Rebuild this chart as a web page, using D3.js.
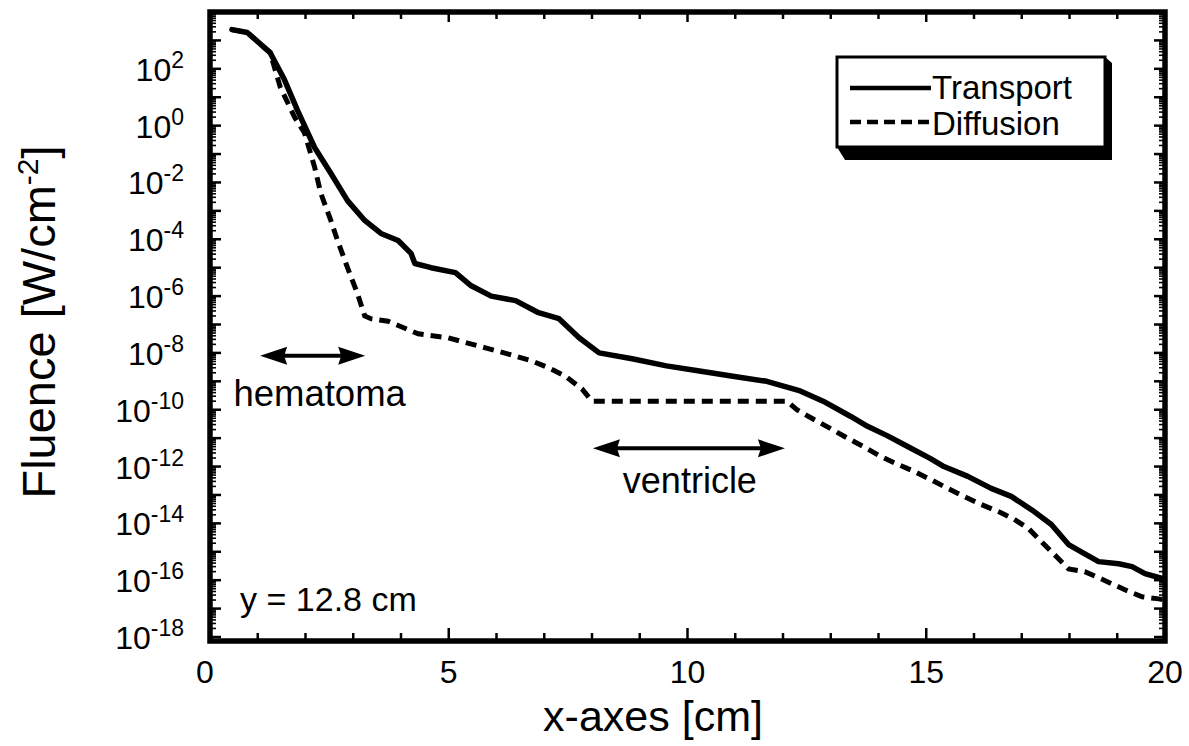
<!DOCTYPE html>
<html>
<head>
<meta charset="utf-8">
<script src="https://cdn.jsdelivr.net/npm/d3@7"></script>
<style>
  html, body { margin: 0; padding: 0; background: #fff; }
  svg { display: block; }
  text { font-family: "Liberation Sans", Arial, Helvetica, sans-serif; fill: #000; }
</style>
</head>
<body>
<svg id="chart" width="1189" height="746"></svg>
<script>
// ---- data ----
const transportX = [0.46,0.78,1.26,1.56,1.83,2.19,2.53,2.88,3.24,3.58,3.94,4.21,4.29,4.63,5.14,5.47,5.89,6.40,6.88,7.31,7.73,8.15,8.84,9.56,10.25,10.95,11.66,12.36,12.84,13.41,13.77,14.19,14.61,15.09,15.37,15.87,16.36,16.78,17.26,17.62,17.98,18.32,18.61,19.03,19.31,19.58,19.98];
const transportF = [2.4e3,1.9e3,3.7e2,41,3.5,0.17,0.021,2.3e-3,4.6e-4,1.6e-4,9e-5,3.2e-5,1.4e-5,1e-5,6.7e-6,2.3e-6,1e-6,6.9e-7,2.6e-7,1.6e-7,3.4e-8,1e-8,6.2e-9,3.5e-9,2.3e-9,1.5e-9,1e-9,4.6e-10,2e-10,5.9e-11,2.6e-11,1.2e-11,5.1e-12,1.9e-12,1e-12,4.5e-13,1.7e-13,8.9e-14,2.6e-14,9.1e-15,1.8e-15,8.5e-16,4.5e-16,3.8e-16,3e-16,1.7e-16,1.1e-16];

const diffusionX = [0.46,0.78,1.26,1.47,1.77,1.98,2.19,2.32,2.53,2.67,2.88,3.09,3.24,3.37,3.73,4.36,4.99,5.77,6.25,6.74,7.09,7.45,7.79,8.00,12.08,12.29,12.63,12.99,13.35,13.68,14.04,14.40,14.74,15.09,15.45,15.79,16.15,16.51,16.84,17.14,17.41,17.77,17.98,18.32,18.67,19.16,19.52,19.87,20.0];
const diffusionF = [2.4e3,1.9e3,3.7e2,23,2.0,0.55,0.035,4.2e-3,4.6e-4,9.1e-5,1e-5,1.2e-6,2e-7,1.6e-7,1.3e-7,4.7e-8,3.4e-8,1.5e-8,9.1e-9,5.2e-9,3e-9,1.5e-9,5.4e-10,2e-10,2e-10,1e-10,4.7e-11,2.2e-11,1e-11,5.1e-12,2.3e-12,1.2e-12,6.8e-13,3.5e-13,1.7e-13,8.9e-14,4.6e-14,2.6e-14,1.4e-14,6.6e-15,2.3e-15,5.7e-16,2.5e-16,2e-16,1.1e-16,4.6e-17,2.6e-17,2.2e-17,2e-17];

const xTickValues = [0, 5, 10, 15, 20];
const yLabelExponents = [2, 0, -2, -4, -6, -8, -10, -12, -14, -16, -18];
const seriesNames = ["Transport", "Diffusion"];

// annotations (data coordinates)
const hematomaArrow = { x0: 1.05, x1: 3.25, f: 8e-9 };
const ventricleArrow = { x0: 8.02, x1: 12.04, f: 4.4e-12 };

// ---- layout ----
const svg = d3.select("#chart");
const L = 210, R = 1165, T = 12, B = 641;
const x = d3.scaleLinear().domain([0, 20]).range([L, R]);
const y = d3.scaleLog().domain([1e-18, 1e4]).range([637, T]);

// frame
svg.append("rect").attr("x", L).attr("y", T).attr("width", R - L).attr("height", B - T)
  .attr("fill", "none").attr("stroke", "#000").attr("stroke-width", 5.5);

// x ticks (bottom + top)
const xMinor = d3.range(0, 21, 1);
svg.append("g").selectAll("line").data(xMinor).join("line")
  .attr("x1", d => x(d)).attr("x2", d => x(d))
  .attr("y1", B).attr("y2", d => B - (d % 5 === 0 ? 13 : 8))
  .attr("stroke", "#000").attr("stroke-width", 2.5);
svg.append("g").selectAll("line").data(xMinor).join("line")
  .attr("x1", d => x(d)).attr("x2", d => x(d))
  .attr("y1", T).attr("y2", d => T + (d % 5 === 0 ? 10 : 7))
  .attr("stroke", "#000").attr("stroke-width", 2.5);

// y ticks (left + right), majors each decade, log minors
const yMajor = d3.range(-18, 5).map(e => Math.pow(10, e));
const yMinorT = [];
d3.range(-18, 4).forEach(e => { for (let m = 2; m <= 9; m++) yMinorT.push(m * Math.pow(10, e)); });
[[L, 1], [R, -1]].forEach(([x0, dir]) => {
  svg.append("g").selectAll("line").data(yMajor).join("line")
    .attr("x1", x0).attr("x2", x0 + dir * 11)
    .attr("y1", d => y(d)).attr("y2", d => y(d))
    .attr("stroke", "#000").attr("stroke-width", 2.5);
  svg.append("g").selectAll("line").data(yMinorT).join("line")
    .attr("x1", x0).attr("x2", x0 + dir * 6)
    .attr("y1", d => y(d)).attr("y2", d => y(d))
    .attr("stroke", "#000").attr("stroke-width", 1.6);
});

// x tick labels
svg.append("g").selectAll("text").data(xTickValues).join("text")
  .attr("x", d => x(d) - (d === 0 ? 5 : 0)).attr("y", 683)
  .attr("text-anchor", "middle").attr("font-size", 32)
  .text(d => d);

// y tick labels
const yl = svg.append("g").selectAll("text").data(yLabelExponents).join("text")
  .attr("x", 184).attr("y", d => y(Math.pow(10, d)) + 12)
  .attr("text-anchor", "end").attr("font-size", 32);
yl.append("tspan").text("10");
yl.append("tspan").attr("dy", -13).attr("font-size", 23).text(d => d);

// axis titles
svg.append("text").attr("x", 653).attr("y", 731).attr("text-anchor", "middle")
  .attr("font-size", 43).text("x-axes [cm]");
const yt = svg.append("text").attr("transform", "translate(55,322) rotate(-90)")
  .attr("text-anchor", "middle").attr("font-size", 47);
yt.append("tspan").text("Fluence [W/cm");
yt.append("tspan").attr("dy", -17).attr("font-size", 30).text("-2");
yt.append("tspan").attr("dy", 17).text("]");

// curves
const line = d3.line().x(d => x(d[0])).y(d => y(d[1]));
const transport = transportX.map((v, i) => [v, transportF[i]]);
const diffusion = diffusionX.map((v, i) => [v, diffusionF[i]]);
svg.append("path").datum(diffusion).attr("d", line)
  .attr("fill", "none").attr("stroke", "#000").attr("stroke-width", 5)
  .attr("stroke-dasharray", "11,7");
svg.append("path").datum(transport).attr("d", line)
  .attr("fill", "none").attr("stroke", "#000").attr("stroke-width", 5.5)
  .attr("stroke-linejoin", "round").attr("stroke-linecap", "round");

// double arrows
function dblArrow(a) {
  const x0 = x(a.x0), x1 = x(a.x1), yy = y(a.f);
  const hl = 27, hw = 9;
  svg.append("line").attr("x1", x0 + hl - 4).attr("x2", x1 - hl + 4).attr("y1", yy).attr("y2", yy)
    .attr("stroke", "#000").attr("stroke-width", 4);
  svg.append("path").attr("d", `M${x0},${yy} L${x0 + hl},${yy - hw} L${x0 + hl - 3},${yy} L${x0 + hl},${yy + hw} Z`).attr("fill", "#000");
  svg.append("path").attr("d", `M${x1},${yy} L${x1 - hl},${yy - hw} L${x1 - hl + 3},${yy} L${x1 - hl},${yy + hw} Z`).attr("fill", "#000");
}
dblArrow(hematomaArrow);
dblArrow(ventricleArrow);

svg.append("text").attr("x", x(0.49)).attr("y", y(1.3e-10)).attr("font-size", 36.5).text("hematoma");
svg.append("text").attr("x", x(10.05)).attr("y", y(1.15e-13)).attr("text-anchor", "middle").attr("font-size", 36).text("ventricle");
svg.append("text").attr("x", x(0.63)).attr("y", y(8e-18)).attr("font-size", 34).text("y = 12.8 cm");

// legend
const lg = svg.append("g");
lg.append("polygon").attr("points", "837,147 1105,147 1105,57 1112,63 1112,160 845,160").attr("fill", "#000");
lg.append("rect").attr("x", 837).attr("y", 57).attr("width", 268).attr("height", 90)
  .attr("fill", "#fff").attr("stroke", "#000").attr("stroke-width", 3);
lg.append("line").attr("x1", 850).attr("x2", 931).attr("y1", 88).attr("y2", 88)
  .attr("stroke", "#000").attr("stroke-width", 4.5);
lg.append("line").attr("x1", 850).attr("x2", 931).attr("y1", 122).attr("y2", 122)
  .attr("stroke", "#000").attr("stroke-width", 4.5).attr("stroke-dasharray", "11,6");
lg.append("text").attr("x", 932).attr("y", 99).attr("font-size", 33).text(seriesNames[0]);
lg.append("text").attr("x", 932).attr("y", 135).attr("font-size", 33).text(seriesNames[1]);
</script>
</body>
</html>
